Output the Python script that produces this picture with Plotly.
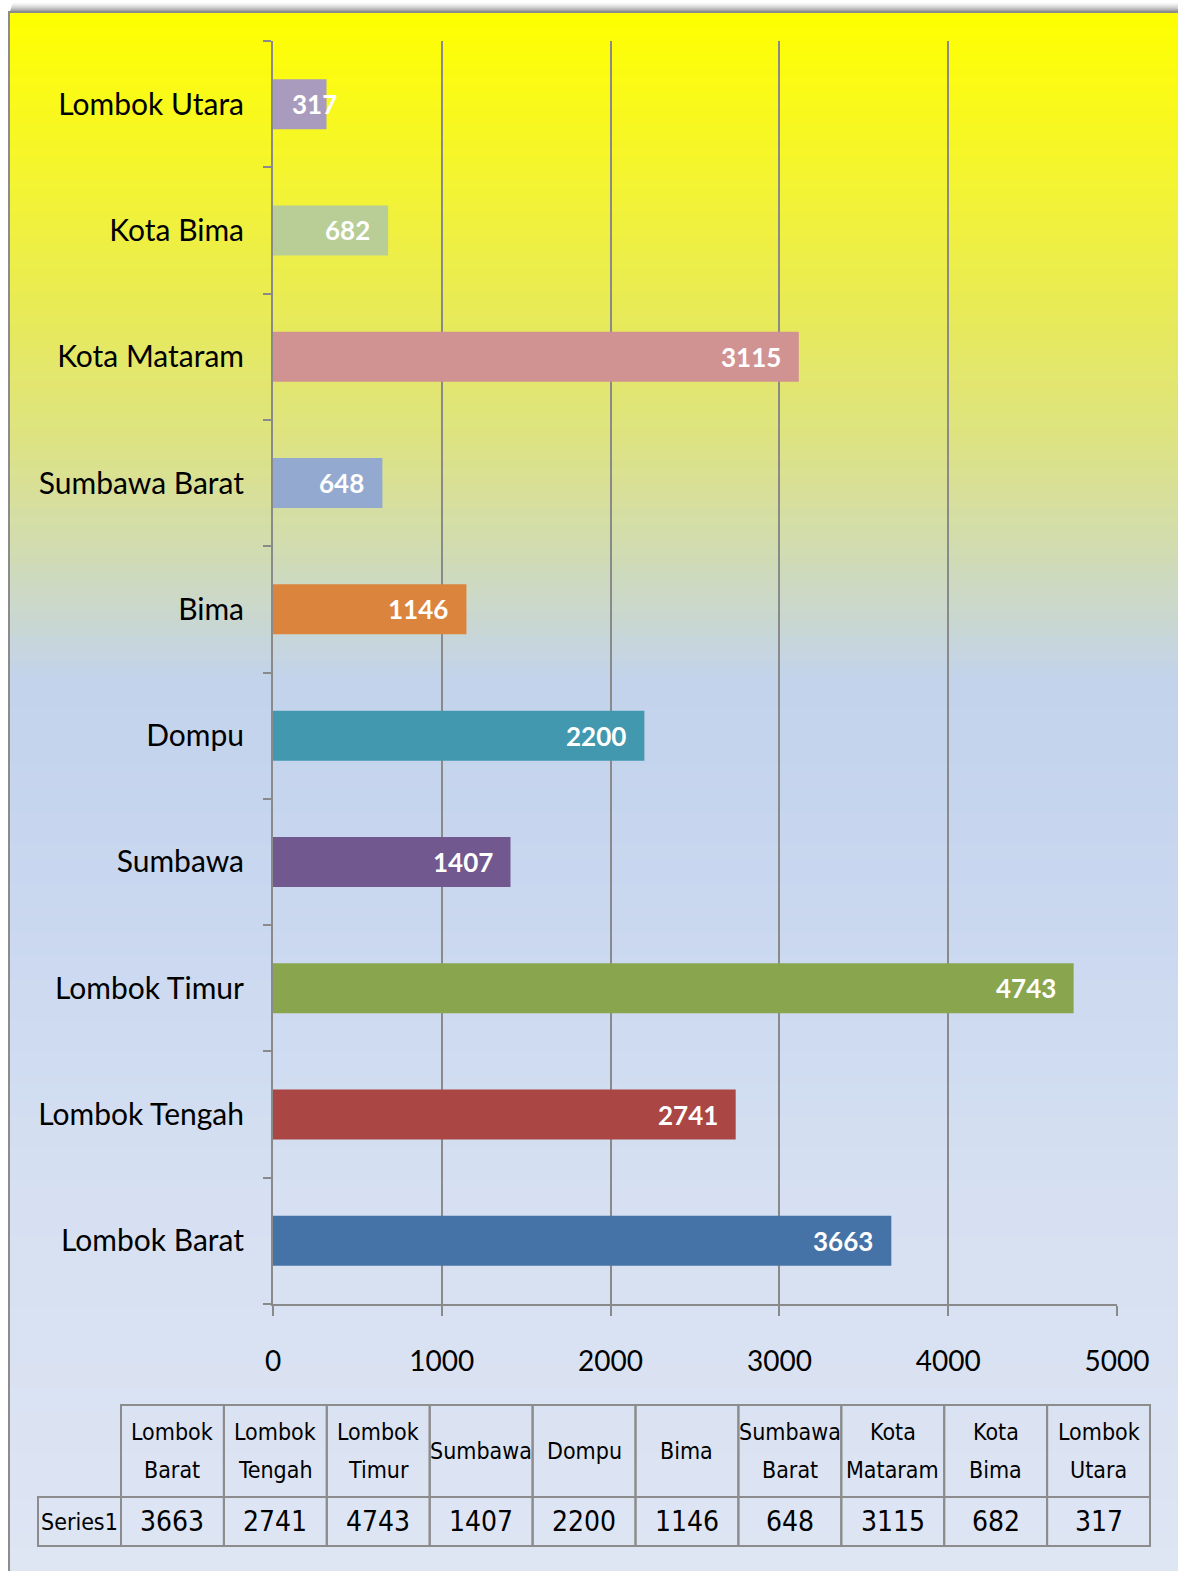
import plotly.graph_objects as go

# ---------------- data ----------------
categories = ["Lombok Barat", "Lombok Tengah", "Lombok Timur", "Sumbawa", "Dompu",
              "Bima", "Sumbawa Barat", "Kota Mataram", "Kota Bima", "Lombok Utara"]
values = [3663, 2741, 4743, 1407, 2200, 1146, 648, 3115, 682, 317]
bar_colors = ["#4572A7", "#AA4643", "#89A54E", "#71588F", "#4198AF",
              "#DB843D", "#93A9CF", "#D19392", "#B9CD96", "#A99BBD"]
x_ticks = [0, 1000, 2000, 3000, 4000, 5000]
series_name = "Series1"

# ---------------- geometry helpers (pixels -> paper) ----------------
W, H = 1178, 1571
def px(x):
    return x / W
def py(y):
    return 1 - y / H

PLOT_L, PLOT_R, PLOT_T, PLOT_B = 273, 1117, 41, 1304
XMAX = 5000
LABEL_FONT = "Lato, Calibri, 'Noto Sans', sans-serif"
TABLE_FONT = "'Liberation Sans Narrow', 'DejaVu Sans Condensed', 'Arial Narrow', sans-serif"
GRID = "#8A8A8A"

fig = go.Figure()
fig.add_trace(go.Bar(
    y=categories, x=values, orientation="h",
    marker=dict(color=bar_colors, line=dict(width=0)),
    hoverinfo="skip", showlegend=False,
))

shapes = []
# ---- background gradient (styling) ----
stops = [
    (12, (255, 255, 0)),
    (150, (246, 246, 40)),
    (300, (233, 235, 84)),
    (440, (221, 227, 131)),
    (560, (208, 219, 182)),
    (680, (195, 211, 236)),
    (900, (201, 215, 239)),
    (1200, (214, 224, 242)),
    (1571, (222, 229, 243)),
]
def grad_color(y):
    for (y0, c0), (y1, c1) in zip(stops[:-1], stops[1:]):
        if y0 <= y <= y1:
            t = (y - y0) / (y1 - y0)
            return "rgb(%d,%d,%d)" % tuple(round(a + (b - a) * t) for a, b in zip(c0, c1))
    return "rgb(%d,%d,%d)" % stops[-1][1]

band = 8
y = 12
while y < H:
    y2 = min(y + band, H + 5)
    shapes.append(dict(type="rect", xref="paper", yref="paper", layer="below",
                       x0=px(9), x1=px(W + 10), y0=py(y2 + 1), y1=py(y),
                       fillcolor=grad_color(y + band / 2), line=dict(width=0)))
    y += band

# ---- shadow above frame ----
for i in range(10):
    yy = 11 - i
    op = 0.42 * (1 - i / 10) ** 1.6
    shapes.append(dict(type="rect", xref="paper", yref="paper", layer="below",
                       x0=px(10 + i * 0.3), x1=px(W + 10), y0=py(yy + 1), y1=py(yy),
                       fillcolor="rgba(0,0,0,%.3f)" % op, line=dict(width=0)))
# ---- frame ----
shapes.append(dict(type="rect", xref="paper", yref="paper", layer="below",
                   x0=px(9), x1=px(W + 20), y0=py(H + 20), y1=py(12),
                   fillcolor="rgba(0,0,0,0)", line=dict(color="#8C8C8C", width=2)))

# ---- data table (below chart) ----
TBL_L0, TBL_L1, TBL_R = 38, 121, 1150
TBL_T, TBL_M, TBL_B = 1405, 1497, 1546
LINE_GAP = 38
n = len(categories)
col_w = (TBL_R - TBL_L1) / n
line_style = dict(color="#8C8C8C", width=2)
annotations = []
# series name cell
shapes.append(dict(type="rect", xref="paper", yref="paper", x0=px(TBL_L0), x1=px(TBL_L1),
                   y0=py(TBL_B), y1=py(TBL_M), line=line_style, fillcolor="rgba(0,0,0,0)"))
annotations.append(dict(xref="paper", yref="paper", x=px((TBL_L0 + TBL_L1) / 2),
                        y=py((TBL_M + TBL_B) / 2), text=series_name, showarrow=False,
                        xanchor="center", yanchor="middle",
                        font=dict(family=TABLE_FONT, size=23, color="black")))
for i, (cat, val) in enumerate(zip(categories, values)):
    x0 = TBL_L1 + i * col_w
    x1 = x0 + col_w
    shapes.append(dict(type="rect", xref="paper", yref="paper", x0=px(x0), x1=px(x1),
                       y0=py(TBL_M), y1=py(TBL_T), line=line_style, fillcolor="rgba(0,0,0,0)"))
    shapes.append(dict(type="rect", xref="paper", yref="paper", x0=px(x0), x1=px(x1),
                       y0=py(TBL_B), y1=py(TBL_M), line=line_style, fillcolor="rgba(0,0,0,0)"))
    words = cat.split(" ")
    cy = (TBL_T + TBL_M) / 2
    for k, wtxt in enumerate(words):
        yline = cy + (k - (len(words) - 1) / 2) * LINE_GAP
        annotations.append(dict(xref="paper", yref="paper", x=px((x0 + x1) / 2),
                                y=py(yline), text=wtxt,
                                showarrow=False, xanchor="center", yanchor="middle",
                                font=dict(family=TABLE_FONT, size=23, color="black")))
    annotations.append(dict(xref="paper", yref="paper", x=px((x0 + x1) / 2),
                            y=py((TBL_M + TBL_B) / 2), text=str(val),
                            showarrow=False, xanchor="center", yanchor="middle",
                            font=dict(family=TABLE_FONT, size=28, color="black")))

# ---- data labels on bars ----
px_per_unit = (PLOT_R - PLOT_L) / XMAX
for cat, val in zip(categories, values):
    text_w = 15 * len(str(val))
    if val * px_per_unit < 17 + 18 + text_w:
        annotations.append(dict(x=0, y=cat, xref="x", yref="y", text="<b>%d</b>" % val,
                                showarrow=False, xanchor="left", yanchor="middle", xshift=17,
                                font=dict(family=LABEL_FONT, size=26, color="white")))
    else:
        annotations.append(dict(x=val, y=cat, xref="x", yref="y", text="<b>%d</b>" % val,
                                showarrow=False, xanchor="right", yanchor="middle", xshift=-16,
                                font=dict(family=LABEL_FONT, size=26, color="white")))

fig.update_layout(
    width=W, height=H,
    margin=dict(l=0, r=0, t=0, b=0, autoexpand=False),
    paper_bgcolor="white",
    plot_bgcolor="rgba(0,0,0,0)",
    bargap=0.604,
    showlegend=False,
    shapes=shapes,
    annotations=annotations,
    xaxis=dict(
        domain=[px(PLOT_L), px(PLOT_R)], range=[0, XMAX],
        tickmode="array", tickvals=x_ticks, ticktext=[str(t) for t in x_ticks],
        showgrid=True, gridcolor=GRID, gridwidth=2,
        showline=True, linecolor=GRID, linewidth=2,
        ticks="outside", ticklen=10, tickwidth=2, tickcolor=GRID,
        tickfont=dict(family=LABEL_FONT, size=28, color="black"),
        ticklabelstandoff=21, zeroline=False, fixedrange=True, automargin=False,
    ),
    yaxis=dict(
        domain=[py(PLOT_B), py(PLOT_T)], type="category",
        categoryorder="array", categoryarray=categories,
        tickson="boundaries", ticks="outside", ticklen=8, tickwidth=2, tickcolor=GRID,
        showline=True, linecolor=GRID, linewidth=2, showgrid=False,
        tickfont=dict(family=LABEL_FONT, size=30, color="black"),
        ticklabelstandoff=21, fixedrange=True, automargin=False,
    ),
)

fig.write_html(
    "out.html",
    config={"responsive": False, "displayModeBar": False},
    post_script="document.body.style.margin='0';document.body.style.overflow='hidden';",
)
